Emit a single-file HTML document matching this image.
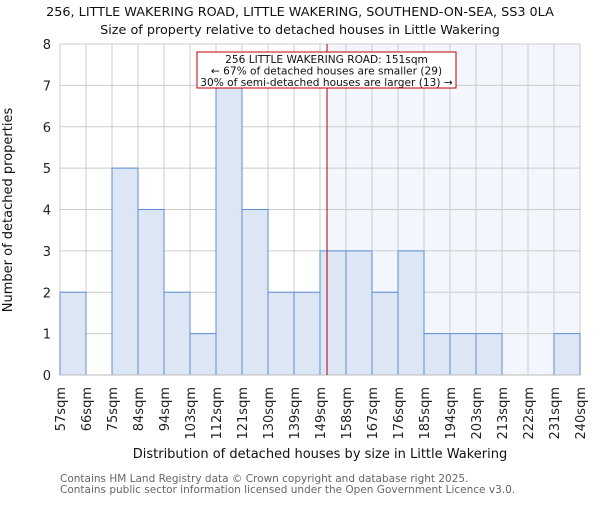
<!DOCTYPE html>
<html><head><meta charset="utf-8"><style>body{margin:0;background:#fff}svg{font-family:"DejaVu Sans","Liberation Sans",sans-serif}</style></head>
<body>
<svg id="c" width="600" height="500"></svg>
<script>
const categories=["57sqm","66sqm","75sqm","84sqm","94sqm","103sqm","112sqm","121sqm","130sqm","139sqm","149sqm","158sqm","167sqm","176sqm","185sqm","194sqm","203sqm","213sqm","222sqm","231sqm","240sqm"];
const counts=[2,0,5,4,2,1,7,4,2,2,3,3,2,3,1,1,1,0,0,1];
const yTicks=[0,1,2,3,4,5,6,7,8];
const markerBin=10.27;
const NS="http://www.w3.org/2000/svg",svg=document.getElementById('c');
const L=60,R=580,T=44,B=375,n=counts.length;
const x=i=>L+(R-L)*i/n, y=v=>B-(B-T)*v/8;
function el(t,a,p){const e=document.createElementNS(NS,t);for(const k in a)e.setAttribute(k,a[k]);(p||svg).appendChild(e);return e;}
function txt(s,a){const e=el('text',a);e.textContent=s;return e;}
const mx=x(markerBin);
const sh=el('rect',{x:mx,y:T,width:R-mx,height:B-T,fill:'#f3f6fd'});


yTicks.forEach(v=>{const g=el('line',{x1:L,x2:R,y1:y(v),y2:y(v),stroke:'#ccc'});


const t=txt(v,{x:L-9,y:y(v)+5,'text-anchor':'end','font-size':13,fill:'#222'});

});
for(let i=0;i<=n;i++){const g=el('line',{x1:x(i),x2:x(i),y1:T,y2:B,stroke:'#ccc'});

}
counts.forEach((v,i)=>{if(v<=0)return;const r=el('rect',{x:x(i),y:y(v),width:x(i+1)-x(i),height:B-y(v),fill:'#dde6f4',stroke:'#5b8fd6','stroke-width':1});

});
categories.forEach((c,i)=>{const t=txt(c,{transform:`translate(${x(i)+5},387) rotate(-90)`,'text-anchor':'end','font-size':13,fill:'#222'});

});
const ax=el('line',{x1:L,x2:R,y1:B,y2:B,stroke:'#bbb'});


const ml=el('line',{x1:mx,x2:mx,y1:T,y2:B,stroke:'#b00000','stroke-width':1});


const bx=el('rect',{x:197,y:52,width:259,height:36,fill:'#fff',stroke:'#c00000'});


[["256 LITTLE WAKERING ROAD: 151sqm",63],["← 67% of detached houses are smaller (29)",74.5],["30% of semi-detached houses are larger (13) →",86]].forEach(([s,yy])=>{const t=txt(s,{x:326.5,y:yy,'text-anchor':'middle','font-size':10.6,fill:'#111'});

});
const t1=txt("256, LITTLE WAKERING ROAD, LITTLE WAKERING, SOUTHEND-ON-SEA, SS3 0LA",{x:300,y:16,'text-anchor':'middle','font-size':12.8,fill:'#111'});


const t2=txt("Size of property relative to detached houses in Little Wakering",{x:300,y:34,'text-anchor':'middle','font-size':12.8,fill:'#111'});


const xt=txt("Distribution of detached houses by size in Little Wakering",{x:320,y:458,'text-anchor':'middle','font-size':13,fill:'#111'});


const yt=txt("Number of detached properties",{transform:'translate(12,210) rotate(-90)','text-anchor':'middle','font-size':13,fill:'#111'});


const f1=txt("Contains HM Land Registry data © Crown copyright and database right 2025.",{x:60,y:482,'font-size':10.5,fill:'#666'});


const f2=txt("Contains public sector information licensed under the Open Government Licence v3.0.",{x:60,y:493,'font-size':10.5,fill:'#666'});


</script>
</body></html>
